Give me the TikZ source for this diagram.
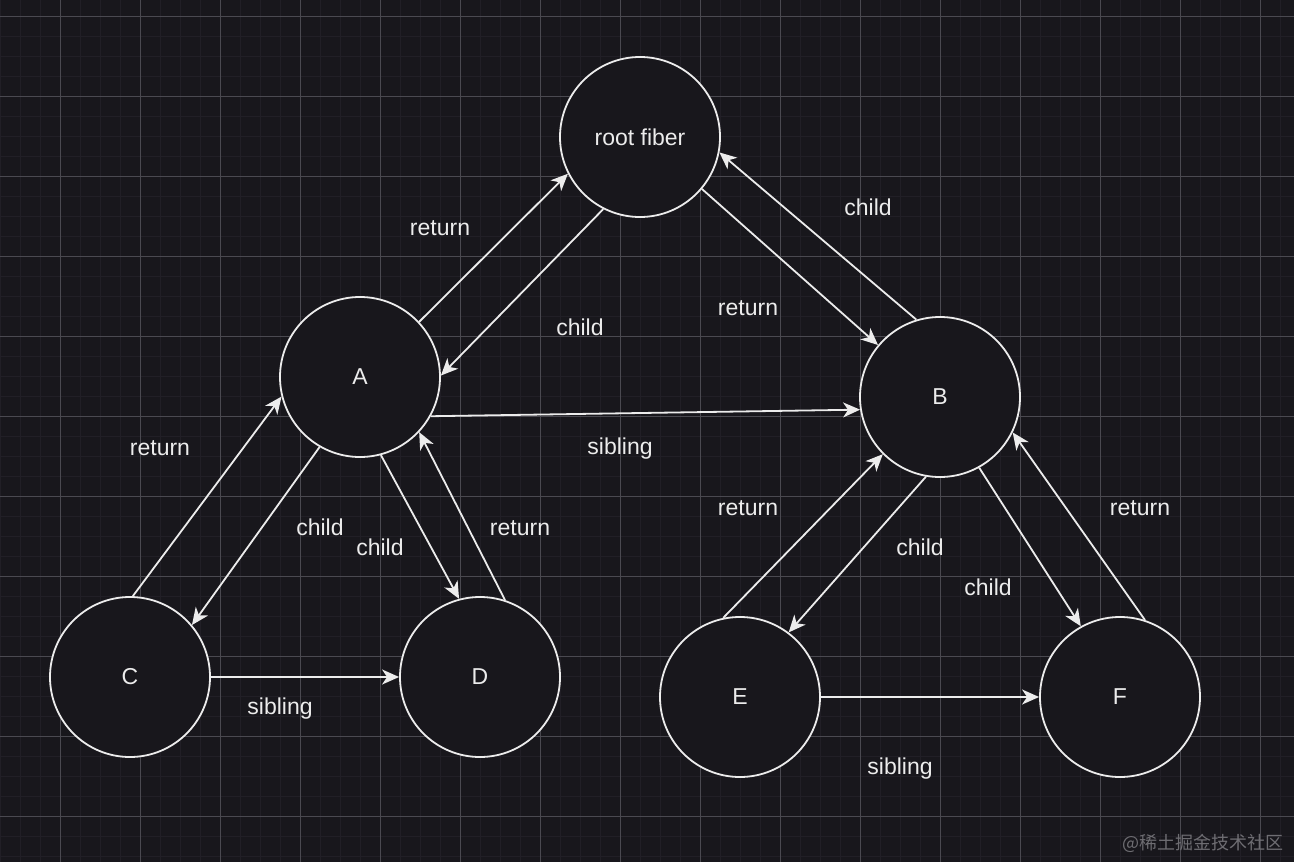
\documentclass[tikz,border=0pt]{standalone}
\usepackage{fontspec}
\setmainfont{Liberation Sans}
\newfontfamily\cjk{Noto Sans CJK SC}
\usetikzlibrary{arrows.meta}
\definecolor{bg}{HTML}{18171C}
\definecolor{minorc}{HTML}{211F26}
\definecolor{majorc}{HTML}{4A4950}
\definecolor{linec}{HTML}{ECECEC}
\definecolor{wmc}{HTML}{6E6D72}
\tikzset{
  fib/.style={circle, draw=linec, line width=1.8pt, fill=bg, minimum size=160pt, inner sep=0pt, text=linec, font=\fontsize{23}{27}\selectfont},
  conn/.style={draw=linec, line width=1.8pt, -{Stealth[length=17pt,width=15pt,inset=5pt]}},
  lbl/.style={text=linec, font=\fontsize{23}{27}\selectfont, inner sep=0pt},
  minorline/.style={draw=minorc, line width=1pt},
  majorline/.style={draw=majorc, line width=1pt}
}
\begin{document}
\begin{tikzpicture}[x=1pt,y=-1pt]
\fill[bg] (0,0) rectangle (1294,862);
\useasboundingbox (0,0) rectangle (1294,862);
\foreach \x in {0,20,...,1290} \draw[minorline] (\x,0) -- (\x,862);
\foreach \y in {16,36,...,860} \draw[minorline] (0,\y) -- (1294,\y);
\foreach \x in {60,140,...,1290} \draw[majorline] (\x,0) -- (\x,862);
\foreach \y in {16,96,...,860} \draw[majorline] (0,\y) -- (1294,\y);

\node[fib] (root) at (640,137) {root fiber};
\node[fib] (A) at (360,377) {A};
\node[fib] (B) at (940,397) {B};
\node[fib] (C) at (130,677) {C};
\node[fib] (D) at (480,677) {D};
\node[fib] (E) at (740,697) {E};
\node[fib] (F) at (1120,697) {F};

\draw[conn] (A.43.6) -- (root.207.7);
\draw[conn] (root.243.4) -- (A.1.4);
\draw[conn] (root.-40.2) -- (B.140);
\draw[conn] (B.107.3) -- (root.-11.7);
\draw[conn] (A.-29.7) -- (B.189);
\draw[conn] (C.88.6) -- (A.194.4);
\draw[conn] (A.240.8) -- (C.40.6);
\draw[conn] (A.285.4) -- (D.105.3);
\draw[conn] (D.72) -- (A.-43.5);
\draw[conn] (C.0) -- (D.180);
\draw[conn] (E.102.7) -- (B.225);
\draw[conn] (B.260.4) -- (E.53);
\draw[conn] (B.-61.2) -- (F.119.7);
\draw[conn] (F.72) -- (B.-26);
\draw[conn] (E.0) -- (F.180);

\node[lbl] (l1) at (440,228) {return};
\node[lbl] (l2) at (580,327) {child};
\node[lbl] (l3) at (748,308) {return};
\node[lbl] (l4) at (868,207) {child};
\node[lbl] (l5) at (620,449) {sibling};
\node[lbl] (l6) at (160,448) {return};
\node[lbl] (l7) at (320,527) {child};
\node[lbl] (l8) at (380,547) {child};
\node[lbl] (l9) at (520,528) {return};
\node[lbl] (l10) at (280,709) {sibling};
\node[lbl] (l11) at (748,508) {return};
\node[lbl] (l12) at (920,547) {child};
\node[lbl] (l13) at (988,587) {child};
\node[lbl] (l14) at (1140,508) {return};
\node[lbl] (l15) at (900,769) {sibling};

\node[text=wmc, font=\cjk\fontsize{18}{20}\selectfont, inner sep=0pt, anchor=east] (wm) at (1284,843) {@稀土掘金技术社区};
\end{tikzpicture}
\end{document}
